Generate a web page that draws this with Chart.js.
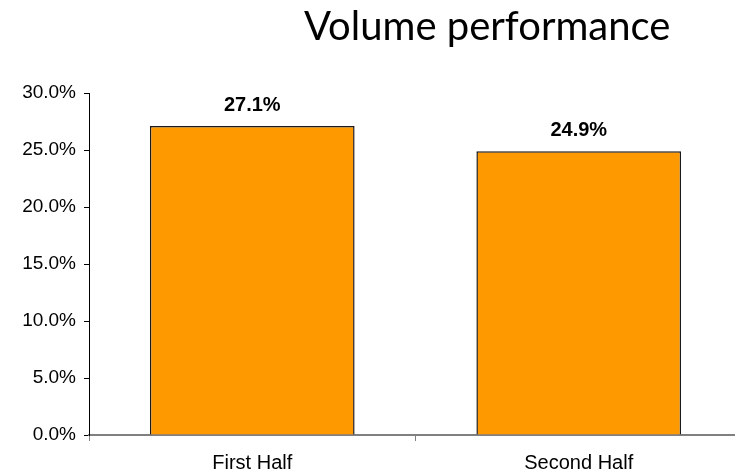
<!DOCTYPE html>
<html>
<head>
<meta charset="utf-8">
<script src="https://cdn.jsdelivr.net/npm/chart.js@4/dist/chart.umd.min.js"></script>
<style>
    html, body { margin: 0; padding: 0; background: #fff; overflow: hidden; }
    #wrap { position: relative; width: 742px; height: 475px; }
    #title {
        position: absolute; left: 304px; top: 1px;
        font-family: Lato, "Open Sans", sans-serif; font-size: 40px; color: #000;
        white-space: nowrap;
    }
</style>
</head>
<body>
<div id="wrap">
    <div id="title">Volume performance</div>
    <canvas id="chart" width="742" height="475"></canvas>
</div>
<script>
const categories = ['First Half', 'Second Half'];
const volumeValues = [27.1, 24.9];
const yTicks = [0, 5, 10, 15, 20, 25, 30];

const fontFamily = '"Liberation Sans", Arial, sans-serif';

// labels above each bar
const barLabels = {
    id: 'barLabels',
    afterDatasetsDraw(chart) {
        const ctx = chart.ctx;
        const meta = chart.getDatasetMeta(0);
        ctx.save();
        ctx.font = 'bold 20px ' + fontFamily;
        ctx.fillStyle = '#000';
        ctx.textAlign = 'center';
        ctx.textBaseline = 'alphabetic';
        meta.data.forEach((bar, i) => {
            ctx.fillText(volumeValues[i].toFixed(1) + '%', bar.x, bar.y - 15);
        });
        ctx.restore();
    }
};

const config = {
    type: 'bar',
    data: {
        labels: categories,
        datasets: [{
            data: volumeValues,
            backgroundColor: '#FF9900',
            borderColor: '#1a1a1a',
            borderWidth: 1.5,
            barPercentage: 0.627,
            categoryPercentage: 1.0,
        }]
    },
    options: {
        responsive: false,
        animation: false,
        layout: { padding: { top: 93, right: 0, left: 0, bottom: 0 } },
        plugins: {
            legend: { display: false },
            tooltip: { enabled: false },
            title: { display: false }
        },
        scales: {
            x: {
                grid: { display: true, drawOnChartArea: false, offset: true, color: '#808080', tickLength: 6 },
                border: { display: true, color: '#808080', width: 2 },
                ticks: { color: '#000', padding: 10, font: { family: fontFamily, size: 20 } },
                afterFit(scale) { scale.height = 40; }
            },
            y: {
                min: 0,
                max: 30,
                afterBuildTicks(scale) { scale.ticks = yTicks.map(v => ({ value: v })); },
                grid: { display: true, drawOnChartArea: false, color: '#000', tickLength: 5 },
                border: { display: true, color: '#000', width: 1 },
                ticks: {
                    color: '#000',
                    padding: 8,
                    font: { family: fontFamily, size: 19 },
                    callback: v => v.toFixed(1) + '%'
                },
                afterFit(scale) { scale.width = 89; }
            }
        }
    },
    plugins: [barLabels]
};

new Chart(document.getElementById('chart'), config);
</script>
</body>
</html>
